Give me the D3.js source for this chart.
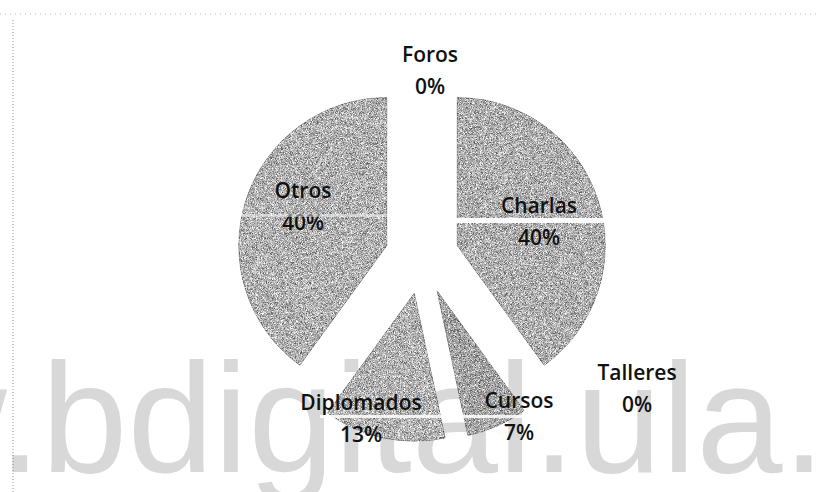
<!DOCTYPE html>
<html>
<head>
<meta charset="utf-8">
<script src="https://cdn.jsdelivr.net/npm/d3@7"></script>
<style>
  html, body { margin: 0; padding: 0; background: #fff; }
  svg { display: block; }
</style>
</head>
<body>
<svg id="chart"></svg>
<script>
// datos del grafico
var categorias = ["Foros", "Charlas", "Talleres", "Cursos", "Diplomados", "Otros"];
var valores = [0, 6, 0, 1, 2, 6];
var etiquetas = ["0%", "40%", "0%", "7%", "13%", "40%"];
var grises = ["#b0b0b0", "#afafaf", "#b0b0b0", "#a4a4a4", "#b2b2b2", "#b1b1b1"];

var width = 819, height = 492;
var cx = 422, cy = 257, radio = 148, separacion = 37;

// posicion de las etiquetas respecto al centro del pastel (primera linea)
var posEtiqueta = {
  "Foros": [8, -195],
  "Charlas": [117, -44],
  "Talleres": [215, 123],
  "Cursos": [97, 151],
  "Diplomados": [-61, 153],
  "Otros": [-119, -59]
};

var svg = d3.select("#chart")
    .attr("width", width)
    .attr("height", height);

// textura de grano (escaneo)
var defs = svg.append("defs");
var f = defs.append("filter")
    .attr("id", "grano")
    .attr("x", "-5%").attr("y", "-5%")
    .attr("width", "110%").attr("height", "110%")
    .attr("color-interpolation-filters", "sRGB");
f.append("feTurbulence")
    .attr("type", "fractalNoise")
    .attr("baseFrequency", 2.2)
    .attr("numOctaves", 1)
    .attr("seed", 7)
    .attr("result", "ruido");
f.append("feColorMatrix")
    .attr("in", "ruido")
    .attr("type", "matrix")
    .attr("values", "1.8 0 0 0 -0.4  1.8 0 0 0 -0.4  1.8 0 0 0 -0.4  0 0 0 0 1")
    .attr("result", "gris");
f.append("feComposite")
    .attr("in", "SourceGraphic").attr("in2", "gris")
    .attr("operator", "arithmetic")
    .attr("k1", 0).attr("k2", 1).attr("k3", 0.75).attr("k4", -0.375)
    .attr("result", "mezcla");
f.append("feComposite")
    .attr("in", "mezcla").attr("in2", "SourceAlpha")
    .attr("operator", "in");

// marca de agua
svg.append("text")
    .attr("x", -329)
    .attr("y", 472)
    .attr("font-family", "Liberation Sans, Arial, sans-serif")
    .attr("font-size", 155)
    .attr("fill", "#d8d8d8")
    .text("www.bdigital.ula.ve");

// borde punteado del area
svg.append("line")
    .attr("x1", 0).attr("x2", width).attr("y1", 14).attr("y2", 14)
    .attr("stroke", "#888").attr("stroke-width", 1)
    .attr("stroke-dasharray", "1 4").attr("opacity", 0.6);
svg.append("line")
    .attr("x1", 13).attr("x2", 13).attr("y1", 20).attr("y2", height)
    .attr("stroke", "#666").attr("stroke-width", 1)
    .attr("stroke-dasharray", "1 2").attr("opacity", 0.7);

var pie = d3.pie().sort(null).value(function(d) { return d; });
var arcos = pie(valores);

var arc = d3.arc().innerRadius(0).outerRadius(radio);

var g = svg.append("g").attr("transform", "translate(" + cx + "," + cy + ")");

g.selectAll("path.porcion")
    .data(arcos.filter(function(d) { return d.value > 0; }))
    .enter().append("path")
    .attr("class", "porcion")
    .attr("d", arc)
    .attr("fill", function(d) { return grises[d.index]; })
    .attr("stroke", "#8c8c8c")
    .attr("stroke-width", 0.6)
    .attr("filter", "url(#grano)")
    .attr("transform", function(d) {
      var a = (d.startAngle + d.endAngle) / 2;
      return "translate(" + (Math.sin(a) * separacion) + "," + (-Math.cos(a) * separacion) + ")";
    });

// lineas blancas del escaneo
svg.append("rect").attr("x", 230).attr("y", 214).attr("width", 162).attr("height", 3)
    .attr("fill", "#fff").attr("opacity", 0.45);
svg.append("rect").attr("x", 450).attr("y", 218).attr("width", 165).attr("height", 5)
    .attr("fill", "#fff").attr("opacity", 0.95);
svg.append("rect").attr("x", 320).attr("y", 415).attr("width", 215).attr("height", 3)
    .attr("fill", "#fff").attr("opacity", 0.85);

// etiquetas
var lab = g.selectAll("g.etiqueta")
    .data(arcos)
    .enter().append("g")
    .attr("class", "etiqueta")
    .attr("transform", function(d, i) {
      var p = posEtiqueta[categorias[i]];
      return "translate(" + p[0] + "," + p[1] + ")";
    })
    .attr("font-family", "Open Sans, Noto Sans, sans-serif")
    .attr("font-size", 21)
    .attr("font-weight", 600)
    .attr("fill", "#111")
    .attr("text-anchor", "middle");

lab.append("text")
    .text(function(d, i) { return categorias[i]; });
lab.append("text")
    .attr("y", 32)
    .text(function(d, i) { return etiquetas[i]; });
</script>
</body>
</html>
